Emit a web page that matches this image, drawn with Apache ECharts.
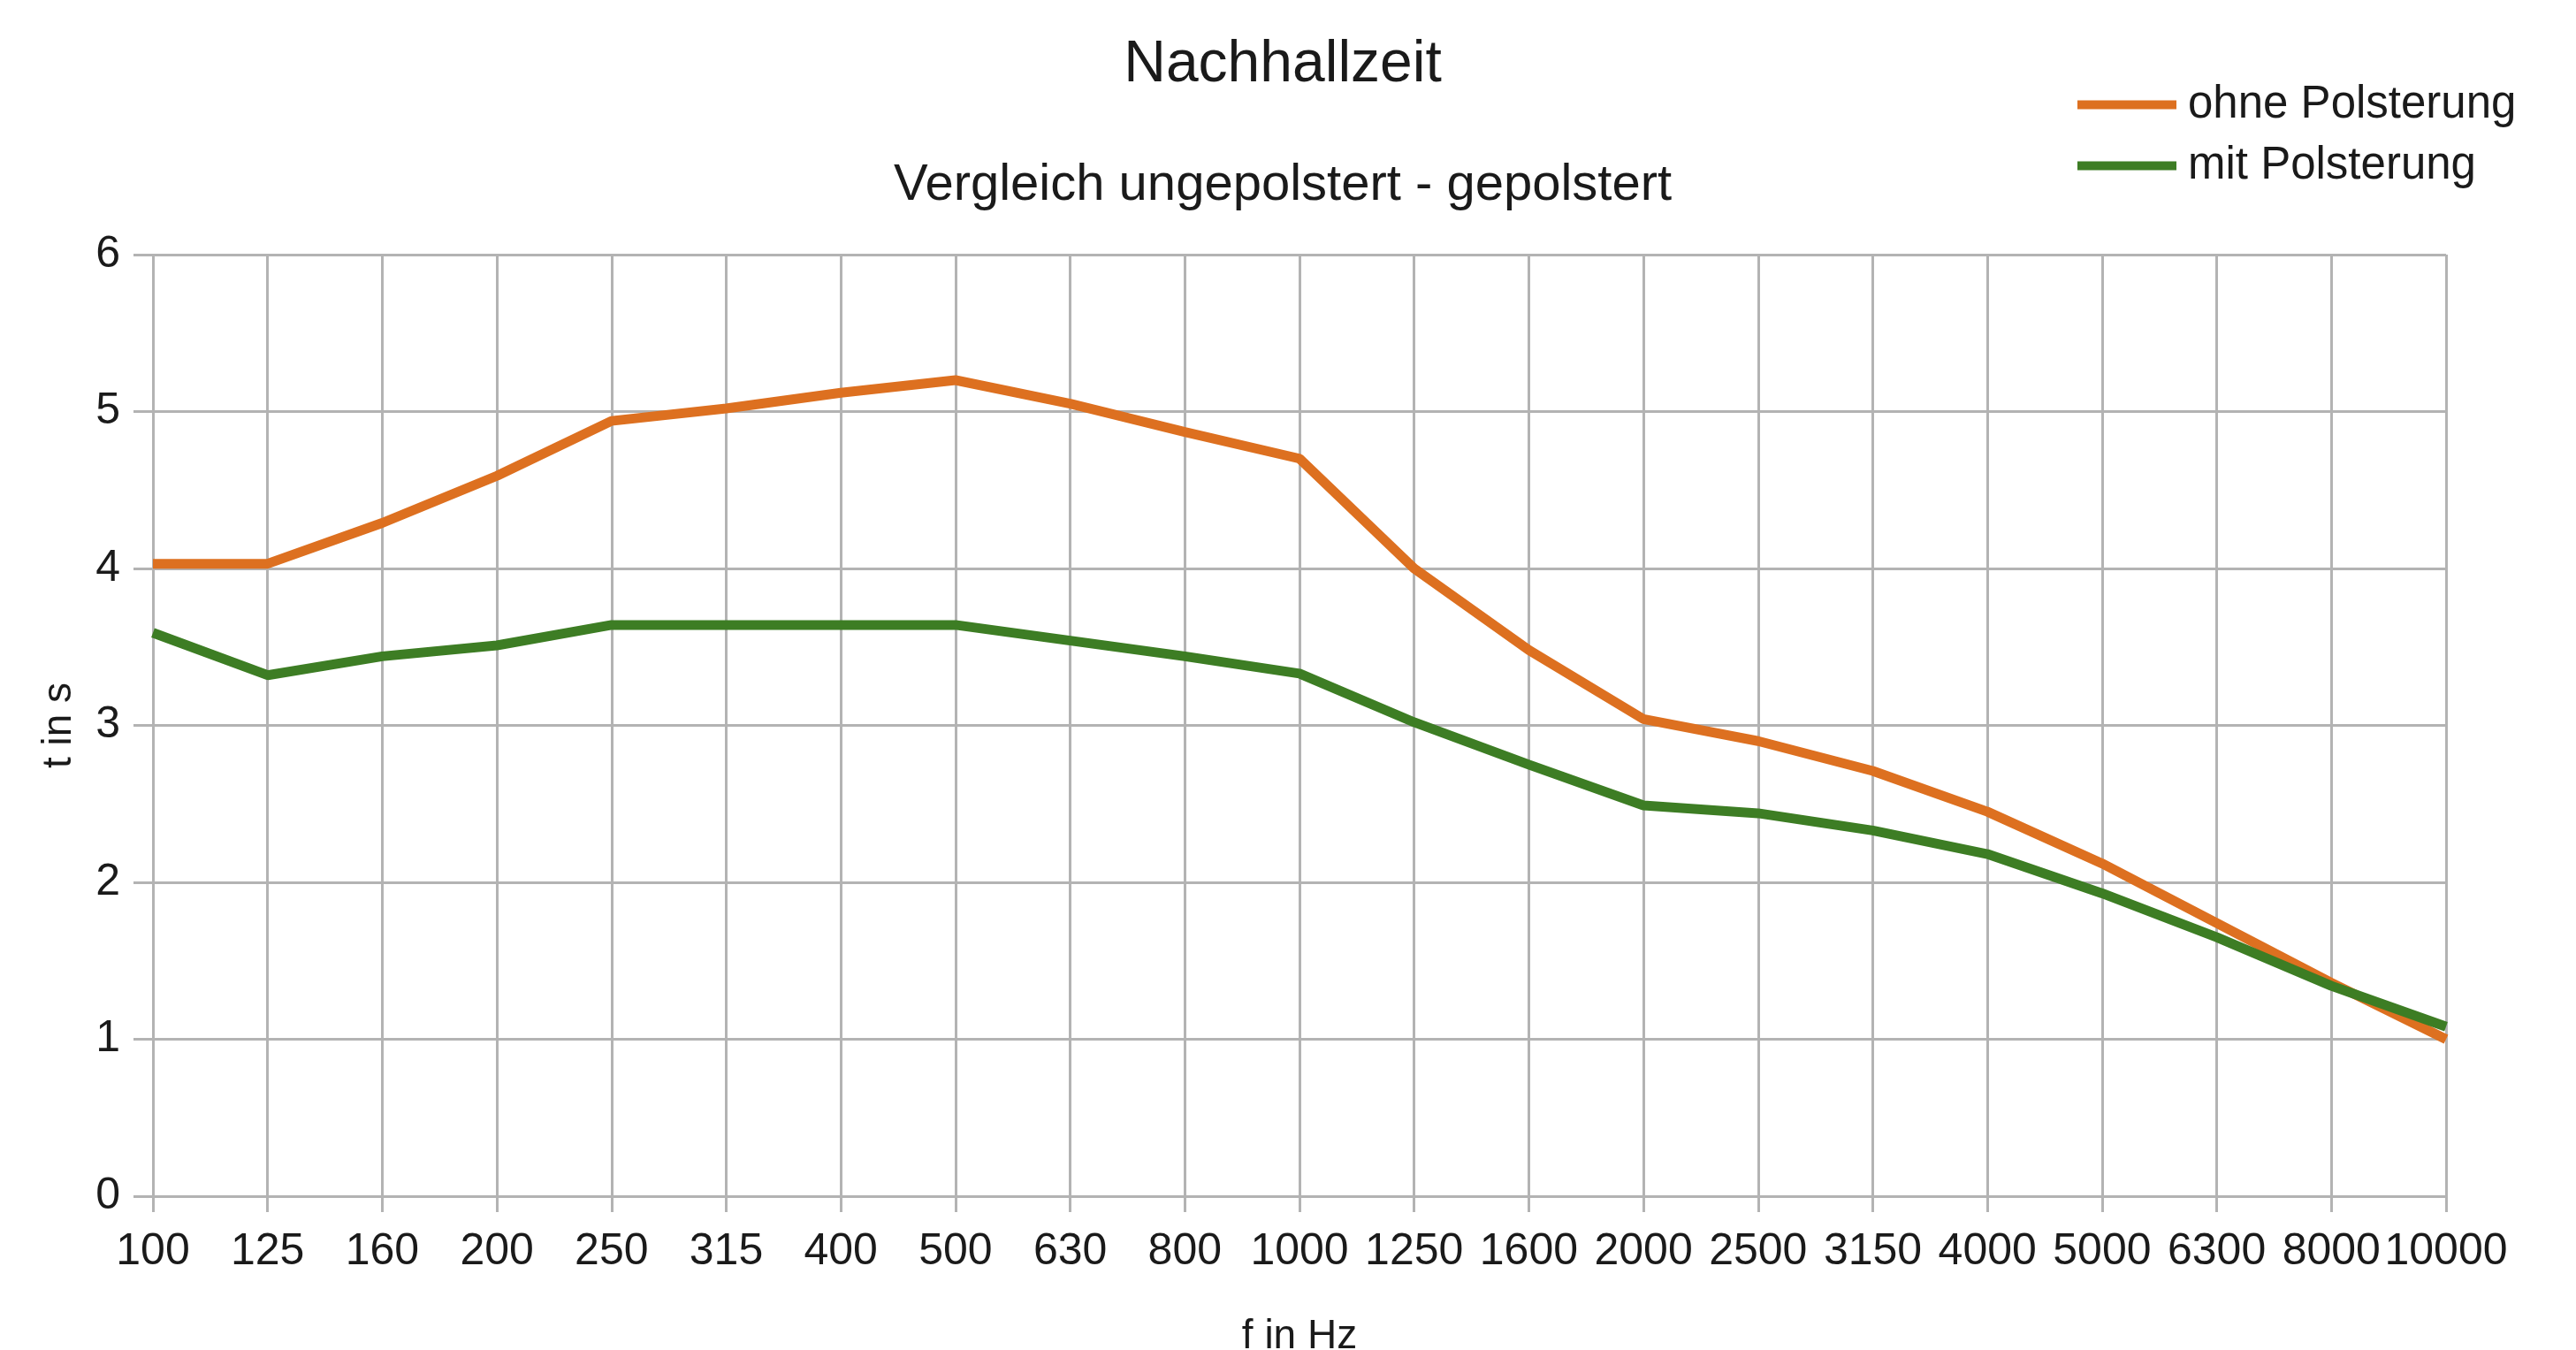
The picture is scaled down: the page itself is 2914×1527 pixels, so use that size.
<!DOCTYPE html>
<html>
<head>
<meta charset="utf-8">
<title>Nachhallzeit</title>
<script src="https://cdn.jsdelivr.net/npm/echarts@6/dist/echarts.min.js"></script>
<style>
    html, body { margin: 0; padding: 0; background: #fff; }
    #chart { width: 2914px; height: 1527px; }
</style>
</head>
<body>
<div id="chart"></div>
<script>
// Terzband-Frequenzen
const frequencies = ['100', '125', '160', '200', '250', '315', '400', '500', '630', '800',
    '1000', '1250', '1600', '2000', '2500', '3150', '4000', '5000', '6300', '8000', '10000'];

const ohnePolsterung = [4.03, 4.03, 4.29, 4.59, 4.94, 5.02, 5.12, 5.20, 5.05, 4.87,
    4.70, 4.00, 3.48, 3.04, 2.90, 2.71, 2.45, 2.12, 1.74, 1.36, 1.00];

const mitPolsterung = [3.59, 3.32, 3.44, 3.51, 3.64, 3.64, 3.64, 3.64, 3.54, 3.44,
    3.33, 3.02, 2.75, 2.49, 2.44, 2.33, 2.18, 1.93, 1.65, 1.34, 1.08];

const yTicks = [0, 6, 1]; // min, max, interval

const fontFamily = 'Liberation Sans';
const textColor = '#1a1a1a';
const gridColor = '#b3b3b3';

const chart = echarts.init(document.getElementById('chart'));

function lineSeries(name, data, color) {
    return {
        name: name,
        type: 'line',
        data: data,
        symbol: 'none',
        lineStyle: { color: color, width: 11 },
        itemStyle: { color: color },
        animation: false
    };
}

chart.setOption({
    textStyle: { fontFamily: fontFamily },
    title: [
        {
            text: 'Nachhallzeit',
            left: 1446,
            top: 36,
            textAlign: 'center',
            textStyle: { fontSize: 66, fontWeight: 'normal', color: textColor, fontFamily: fontFamily }
        },
        {
            text: 'Vergleich ungepolstert - gepolstert',
            left: 1446,
            top: 176,
            textAlign: 'center',
            textStyle: { fontSize: 58, fontWeight: 'normal', color: textColor, fontFamily: fontFamily }
        }
    ],
    legend: {
        orient: 'vertical',
        left: 2345,
        top: 88,
        itemWidth: 112,
        itemHeight: 10,
        itemGap: 18,
        icon: 'rect',
        textStyle: { fontSize: 51, color: textColor, fontFamily: fontFamily, padding: [0, 0, 0, 8] },
        data: ['ohne Polsterung', 'mit Polsterung']
    },
    grid: {
        left: 173,
        right: 147,
        top: 288,
        bottom: 174,
        outerBoundsMode: 'none'
    },
    xAxis: {
        type: 'category',
        data: frequencies,
        boundaryGap: false,
        name: 'f in Hz',
        nameLocation: 'middle',
        nameGap: 136,
        nameTextStyle: { fontSize: 46, color: textColor, fontFamily: fontFamily },
        axisLine: { show: true, lineStyle: { color: gridColor, width: 3 } },
        axisTick: { show: true, length: 18, lineStyle: { color: gridColor, width: 3 } },
        axisLabel: { fontSize: 50, color: textColor, margin: 38, interval: 0, fontFamily: fontFamily },
        splitLine: { show: true, lineStyle: { color: gridColor, width: 3 } }
    },
    yAxis: {
        type: 'value',
        min: yTicks[0],
        max: yTicks[1],
        interval: yTicks[2],
        name: 't in s',
        nameLocation: 'middle',
        nameGap: 83,
        nameTextStyle: { fontSize: 46, color: textColor, fontFamily: fontFamily },
        axisLine: { show: false },
        axisTick: { show: true, length: 22, lineStyle: { color: gridColor, width: 3 } },
        axisLabel: { fontSize: 50, color: textColor, margin: 37, fontFamily: fontFamily },
        splitLine: { show: true, lineStyle: { color: gridColor, width: 3 } }
    },
    series: [
        lineSeries('ohne Polsterung', ohnePolsterung, '#dd7020'),
        lineSeries('mit Polsterung', mitPolsterung, '#3d7d24')
    ]
});
</script>
</body>
</html>
